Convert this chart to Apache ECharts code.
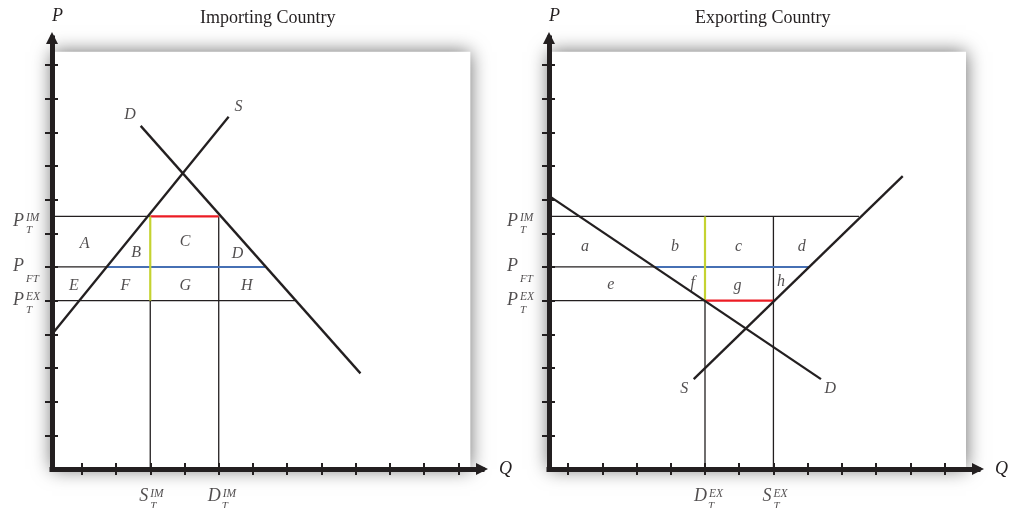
<!DOCTYPE html>
<html>
<head>
<meta charset="utf-8">
<script src="https://cdn.jsdelivr.net/npm/echarts@6/dist/echarts.min.js"></script>
<style>
  html, body { margin: 0; padding: 0; background: #fff; }
  #chart { width: 1022px; height: 508px; }
</style>
</head>
<body>
<div id="chart"></div>
<script>
  // ---- data (axis units: one tick = 1) ----
  const yTicks = [1, 2, 3, 4, 5, 6, 7, 8, 9, 10, 11, 12];
  const imXTicks = [1, 2, 3, 4, 5, 6, 7, 8, 9, 10, 11, 12];
  const exXTicks = [1, 2, 3, 4, 5, 6, 7, 8, 9, 10, 11, 12];
  const yRange = [0, 12.8];
  const imXRange = [0.13, 12.69];
  const exXRange = [0.44, 12.98];
  const imBox = [12.35, 12.39];   // top-right corner of the white panel
  const exBox = [12.63, 12.39];

  // price levels: P_T^IM, P_FT, P_T^EX
  const priceLevels = [7.5, 6, 5];
  const priceLabels = [['P', 'IM', 'T'], ['P', '', 'FT'], ['P', 'EX', 'T']];

  // importing country
  const imQty = [3, 5];
  const imQtyLabels = [['S', 'IM', 'T'], ['D', 'IM', 'T']];
  const imSupply = [[0.13, 4.0], [5.29, 10.46]];
  const imDemand = [[2.72, 10.19], [9.14, 2.84]];
  const imFTRange = [1.74, 6.36];   // P_FT between S and D
  const imEXEnd = 7.24;             // P_T^EX meets D
  const imAreaNames = ['A', 'B', 'C', 'D', 'E', 'F', 'G', 'H'];
  const imAreaX = [1.08, 2.59, 4.02, 5.55, 0.77, 2.27, 4.02, 5.82];
  const imAreaY = [6.70, 6.41, 6.75, 6.39, 5.44, 5.44, 5.44, 5.44];
  const imCurveNames = ['D', 'S'];
  const imCurveX = [2.41, 5.58];
  const imCurveY = [10.51, 10.76];

  // exporting country
  const exQty = [5, 7];
  const exQtyLabels = [['D', 'EX', 'T'], ['S', 'EX', 'T']];
  const exSupply = [[4.67, 2.67], [10.78, 8.70]];
  const exDemand = [[0.44, 8.11], [8.39, 2.67]];
  const exFTRange = [3.51, 8.05];
  const exIMEnd = 9.5;
  const exAreaNames = ['a', 'b', 'c', 'd', 'e', 'f', 'g', 'h'];
  const exAreaX = [1.49, 4.12, 5.98, 7.83, 2.25, 4.64, 5.95, 7.22];
  const exAreaY = [6.60, 6.60, 6.60, 6.60, 5.47, 5.52, 5.44, 5.57];
  const exCurveNames = ['S', 'D'];
  const exCurveX = [4.39, 8.66];
  const exCurveY = [2.38, 2.38];

  // ---- styles ----
  const ink = '#231f20';
  const red = '#ec1c24';
  const blue = '#4670b4';
  const green = '#c5d331';
  const serif = '"Liberation Serif", "Times New Roman", serif';
  const priceDy = [-1.5, -6.5, -6.5];

  const rich = {
    b: { fontFamily: serif, fontStyle: 'italic', fontSize: 18, lineHeight: 12, color: ink },
    sup: { fontFamily: serif, fontStyle: 'italic', fontSize: 11.5, lineHeight: 6, height: 6, verticalAlign: 'top',
      padding: [0, 0, 0, 2], color: ink },
    sub: { fontFamily: serif, fontStyle: 'italic', fontSize: 11, lineHeight: 7, color: ink },
    subLow: { fontFamily: serif, fontStyle: 'italic', fontSize: 11, lineHeight: 14, color: ink },
    gP: { width: 13, lineHeight: 1, fontSize: 1 },
    gS: { width: 11, lineHeight: 1, fontSize: 1 },
    gD: { width: 14, lineHeight: 1, fontSize: 1 }
  };

  function texLabel(parts) {
    let b = parts[0], sup = parts[1], sub = parts[2];
    let gap = '{g' + b + '| }';
    if (sup) return '{b|' + b + '}{sup|' + sup + '}\n' + gap + '{sub|' + sub + '}';
    return '{b|' + b + '}\n' + gap + '{subLow|' + sub + '}';
  }

  function seg(g, pts, color, width) {
    return {
      type: 'line', xAxisIndex: g, yAxisIndex: g, data: pts,
      symbol: 'none', silent: true, clip: false, z: 3,
      lineStyle: { color: color, width: width }
    };
  }

  function boxSeries(g, xr, box) {
    return {
      type: 'line', xAxisIndex: g, yAxisIndex: g, data: [], z: 1, silent: true,
      markArea: {
        silent: true,
        itemStyle: { color: '#fff', shadowBlur: 18, shadowColor: 'rgba(0,0,0,0.6)' },
        data: [[{ coord: [xr[0], 0] }, { coord: box }]]
      }
    };
  }

  function textSeries(g, items) {
    return { type: 'scatter', xAxisIndex: g, yAxisIndex: g, symbolSize: 0, silent: true, clip: false, z: 5, data: items };
  }

  function letters(names, xs, ys, size) {
    return names.map(function (n, i) {
      return {
        value: [xs[i], ys[i]],
        label: { show: true, position: [0, 0], align: 'center', verticalAlign: 'middle',
          formatter: n, fontFamily: serif, fontStyle: 'italic', fontSize: size, color: ink }
      };
    });
  }

  function priceItems(xr, dx) {
    return priceLevels.map(function (p, i) {
      return {
        value: [xr[0], p],
        label: { show: true, position: [0, 0], align: 'left', verticalAlign: 'top',
          offset: [dx, priceDy[i]], formatter: texLabel(priceLabels[i]), rich: rich }
      };
    });
  }

  function qtyItems(qs, labels) {
    return qs.map(function (q, i) {
      return {
        value: [q, 0],
        label: { show: true, position: [0, 0], align: 'left', verticalAlign: 'top',
          offset: [-11, 21.5], formatter: texLabel(labels[i]), rich: rich }
      };
    });
  }

  const nameStyle = { fontFamily: serif, fontStyle: 'italic', fontSize: 18, color: ink };

  function mainX(g, xr) {
    return {
      type: 'value', gridIndex: g, min: xr[0], max: xr[1], z: 10,
      name: 'Q', nameLocation: 'end', nameGap: 17, nameTextStyle: nameStyle,
      axisLine: { show: true, onZero: false, symbol: ['none', 'triangle'], symbolSize: [12, 12],
        lineStyle: { color: ink, width: 5, cap: 'square' } },
      axisTick: { show: false }, axisLabel: { show: false }, splitLine: { show: false }
    };
  }
  function mainY(g) {
    return {
      type: 'value', gridIndex: g, min: yRange[0], max: yRange[1], z: 10,
      name: 'P', nameLocation: 'end', nameGap: 13,
      nameTextStyle: Object.assign({ padding: [0, 0, 0, 11] }, nameStyle),
      axisLine: { show: true, onZero: false, symbol: ['none', 'triangle'], symbolSize: [12, 12],
        lineStyle: { color: ink, width: 5, cap: 'square' } },
      axisTick: { show: false }, axisLabel: { show: false }, splitLine: { show: false }
    };
  }
  function tickX(g, xr, ticks) {
    return {
      type: 'value', gridIndex: g, min: xr[0], max: xr[1], offset: 6, z: 10,
      axisLine: { show: false, onZero: false },
      axisTick: { show: true, inside: true, length: 12, customValues: ticks, lineStyle: { color: ink, width: 2 } },
      axisLabel: { show: false }, splitLine: { show: false }
    };
  }
  function tickY(g) {
    return {
      type: 'value', gridIndex: g, min: yRange[0], max: yRange[1], offset: 7, z: 10,
      axisLine: { show: false, onZero: false },
      axisTick: { show: true, inside: true, length: 13, customValues: yTicks, lineStyle: { color: ink, width: 2 } },
      axisLabel: { show: false }, splitLine: { show: false }
    };
  }

  const P0 = priceLevels[0], P1 = priceLevels[1], P2 = priceLevels[2];
  const imX0 = imXRange[0], exX0 = exXRange[0];

  const series = [
    boxSeries(0, imXRange, imBox),
    boxSeries(2, exXRange, exBox),

    // importing
    seg(0, [[imX0, P0], [imQty[0], P0]], ink, 1.3),
    seg(0, [[imX0, P1], [imFTRange[0], P1]], ink, 1.3),
    seg(0, [[imX0, P2], [imEXEnd, P2]], ink, 1.3),
    seg(0, [[imQty[0], P2], [imQty[0], 0]], ink, 1.3),
    seg(0, [[imQty[1], P0], [imQty[1], 0]], ink, 1.3),
    seg(0, [[imQty[0], P0], [imQty[1], P0]], red, 2.2),
    seg(0, [[imFTRange[0], P1], [imFTRange[1], P1]], blue, 2),
    seg(0, [[imQty[0], P0], [imQty[0], P2]], green, 2.2),
    seg(0, imSupply, ink, 2.3),
    seg(0, imDemand, ink, 2.3),
    textSeries(0, letters(imAreaNames, imAreaX, imAreaY, 16)
      .concat(letters(imCurveNames, imCurveX, imCurveY, 16))
      .concat(priceItems(imXRange, -39))
      .concat(qtyItems(imQty, imQtyLabels))),

    // exporting
    seg(2, [[exX0, P0], [exIMEnd, P0]], ink, 1.3),
    seg(2, [[exX0, P1], [exFTRange[0], P1]], ink, 1.3),
    seg(2, [[exX0, P2], [exQty[0], P2]], ink, 1.3),
    seg(2, [[exQty[0], P2], [exQty[0], 0]], ink, 1.3),
    seg(2, [[exQty[1], P0], [exQty[1], 0]], ink, 1.3),
    seg(2, [[exQty[0], P2], [exQty[1], P2]], red, 2.2),
    seg(2, [[exFTRange[0], P1], [exFTRange[1], P1]], blue, 2),
    seg(2, [[exQty[0], P0], [exQty[0], P2]], green, 2.2),
    seg(2, exSupply, ink, 2.3),
    seg(2, exDemand, ink, 2.3),
    textSeries(2, letters(exAreaNames, exAreaX, exAreaY, 16)
      .concat(letters(exCurveNames, exCurveX, exCurveY, 16))
      .concat(priceItems(exXRange, -42))
      .concat(qtyItems(exQty, exQtyLabels)))
  ];

  const chart = echarts.init(document.getElementById('chart'), null, { renderer: 'canvas' });
  chart.setOption({
    animation: false,
    backgroundColor: '#fff',
    title: [
      { text: 'Importing Country', left: 200, top: 9, padding: 0,
        textStyle: { fontFamily: serif, fontWeight: 'normal', fontSize: 18, color: ink } },
      { text: 'Exporting Country', left: 695, top: 9, padding: 0,
        textStyle: { fontFamily: serif, fontWeight: 'normal', fontSize: 18, color: ink } }
    ],
    grid: [
      { left: 52, top: 38, width: 430, height: 431, containLabel: false, outerBoundsMode: 'none' },
      { left: 52, top: 38, width: 430, height: 431, containLabel: false, outerBoundsMode: 'none' },
      { left: 549, top: 38, width: 429, height: 431, containLabel: false, outerBoundsMode: 'none' },
      { left: 549, top: 38, width: 429, height: 431, containLabel: false, outerBoundsMode: 'none' }
    ],
    xAxis: [mainX(0, imXRange), tickX(1, imXRange, imXTicks), mainX(2, exXRange), tickX(3, exXRange, exXTicks)],
    yAxis: [mainY(0), tickY(1), mainY(2), tickY(3)],
    series: series
  });
</script>
</body>
</html>
